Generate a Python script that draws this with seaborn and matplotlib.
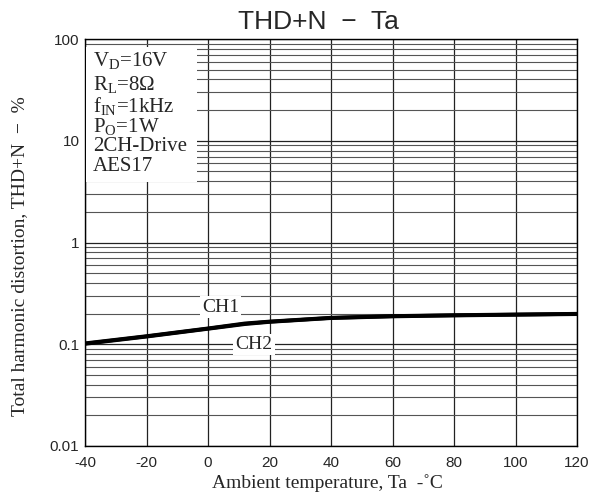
import matplotlib
matplotlib.use("Agg")
import matplotlib.pyplot as plt
import matplotlib.ticker as mticker
from matplotlib.patches import Rectangle
import seaborn as sns
import pandas as pd

# data
temps = [-40, -20, 0, 12, 20, 40, 60, 80, 100, 120]
ch1 = [0.102, 0.120, 0.143, 0.160, 0.167, 0.182, 0.189, 0.193, 0.196, 0.199]
ch2 = [0.101, 0.119, 0.142, 0.158, 0.166, 0.181, 0.188, 0.192, 0.195, 0.198]
conditions = [r"V$_\mathregular{D}$=16V", r"R$_\mathregular{L}$=8$\Omega$",
              r"f$_\mathregular{IN}$=1kHz", r"P$_\mathregular{O}$=1W",
              "2CH-Drive", "AES17"]
xticks = [-40, -20, 0, 20, 40, 60, 80, 100, 120]
yticks = [0.01, 0.1, 1, 10, 100]
ytick_labels = ["0.01", "0.1", "1", "10", "100"]

df = pd.concat([
    pd.DataFrame({"Ta": temps, "thd": ch1, "ch": "CH1"}),
    pd.DataFrame({"Ta": temps, "thd": ch2, "ch": "CH2"}),
])

sns.set_style("white")
plt.rcParams["font.family"] = ["Liberation Sans", "DejaVu Sans"]
plt.rcParams["mathtext.fontset"] = "custom"
plt.rcParams["mathtext.rm"] = "Liberation Serif"
plt.rcParams["mathtext.it"] = "Liberation Serif:italic"

fig = plt.figure(figsize=(6, 4.95), dpi=100)
ax = fig.add_axes([0.1417, 0.099, 0.82, 0.8222])

sns.lineplot(data=df, x="Ta", y="thd", units="ch", estimator=None,
             color="black", linewidth=2.8, ax=ax, zorder=5)

ax.set_yscale("log")
ax.set_xlim(-40, 120)
ax.set_ylim(0.01, 100)
ax.set_xticks(xticks)
ax.set_xticklabels([str(t) for t in xticks], fontsize=11)
ax.set_yticks(yticks)
ax.set_yticklabels(ytick_labels, fontsize=11)
ax.yaxis.set_minor_locator(mticker.LogLocator(base=10, subs=range(2, 10)))
ax.yaxis.set_minor_formatter(mticker.NullFormatter())
ax.tick_params(axis="y", which="both", length=0, pad=4)
ax.tick_params(axis="x", which="both", length=0, pad=7)

ax.grid(True, which="major", axis="both", color="#222222", linewidth=0.9)
ax.grid(True, which="minor", axis="y", color="#555555", linewidth=0.8)
for s in ax.spines.values():
    s.set_color("black")
    s.set_linewidth(1.0)

ax.set_xlabel("Ambient temperature, Ta  -˚C", fontfamily="Liberation Serif",
              fontsize=14)
ax.set_ylabel("Total harmonic distortion, THD+N  \u2212  %",
              fontfamily="Liberation Serif", fontsize=14)
ax.xaxis.set_label_coords(0.492, -0.091)
ax.yaxis.set_label_coords(-0.132, 0.467)
ax.xaxis.label.set_va("center")
ax.yaxis.label.set_va("center")

fig.text(0.53, 0.955, "THD+N  \u2212  Ta", ha="center", va="center",
         fontsize=19, fontfamily="Liberation Sans")

# conditions box
ax.add_patch(Rectangle((0.002, 0.649), 0.226, 0.331, transform=ax.transAxes,
                       facecolor="white", edgecolor="none", zorder=3))
line_y = [0.946, 0.887, 0.835, 0.784, 0.735, 0.686]
for txt, yy in zip(conditions, line_y):
    ax.text(0.016, yy, txt, transform=ax.transAxes, ha="left", va="center",
            fontsize=15, fontfamily="Liberation Serif", zorder=4)

# channel labels
ax.text(4, 0.232, "CH1", ha="center", va="center", fontsize=14,
        fontfamily="Liberation Serif", zorder=4,
        bbox=dict(facecolor="white", edgecolor="none", pad=1.5))
ax.text(15, 0.1, "CH2", ha="center", va="center", fontsize=14,
        fontfamily="Liberation Serif", zorder=4,
        bbox=dict(facecolor="white", edgecolor="none", pad=1.5))

fig.savefig("out.png", dpi=100)
